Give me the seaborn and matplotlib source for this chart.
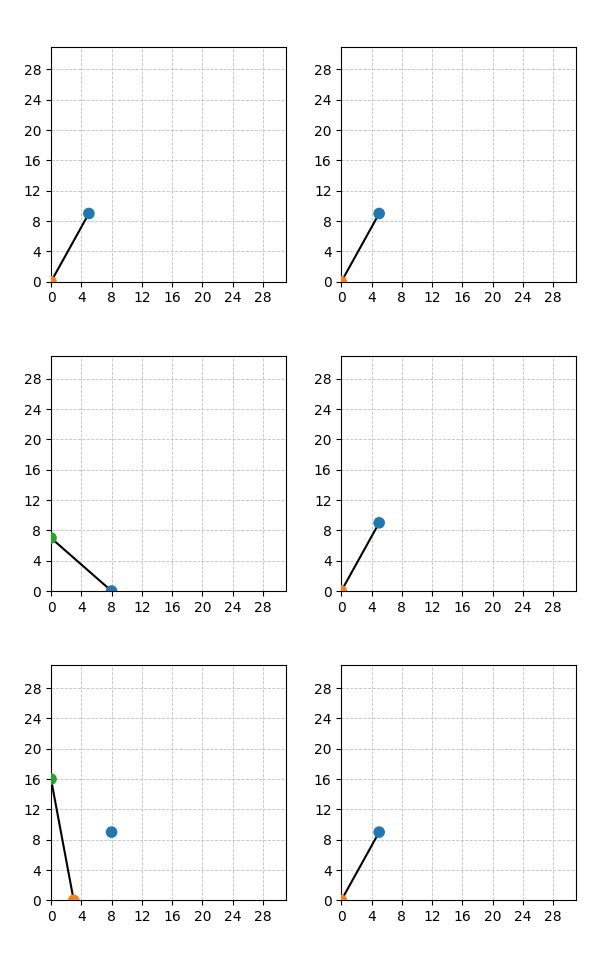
import matplotlib
matplotlib.use("Agg")
import matplotlib.pyplot as plt
import seaborn as sns
import pandas as pd

# Per-panel data (row-major order, 3 rows x 2 cols)
blue_x = [5, 5, 8, 5, 8, 5]
blue_y = [9, 9, 0, 9, 9, 9]
orange_x = [0, 0, None, 0, 3, 0]
orange_y = [0, 0, None, 0, 0, 0]
green_x = [None, None, 0, None, 0, None]
green_y = [None, None, 7, None, 16, None]
line_x = [[0, 5], [0, 5], [0, 8], [0, 5], [0, 3], [0, 5]]
line_y = [[0, 9], [0, 9], [7, 0], [0, 9], [16, 0], [0, 9]]
ticks = list(range(0, 29, 4))

fig, axes = plt.subplots(3, 2, figsize=(5.98, 9.57), dpi=100)
fig.subplots_adjust(left=0.0853, right=0.9632, top=0.9512, bottom=0.0592,
                    wspace=0.237, hspace=0.316)

for i, ax in enumerate(axes.flat):
    ld = pd.DataFrame({"x": line_x[i], "y": line_y[i]})
    sns.lineplot(data=ld, x="x", y="y", sort=False, color="black",
                 linewidth=1.5, ax=ax, zorder=2)
    if orange_x[i] is not None:
        sns.scatterplot(x=[orange_x[i]], y=[orange_y[i]], color="#ff7f0e",
                        s=70, edgecolor="none", ax=ax, zorder=3)
    if green_x[i] is not None:
        sns.scatterplot(x=[green_x[i]], y=[green_y[i]], color="#2ca02c",
                        s=70, edgecolor="none", ax=ax, zorder=3)
    sns.scatterplot(x=[blue_x[i]], y=[blue_y[i]], color="#1f77b4",
                    s=70, edgecolor="none", ax=ax, zorder=3)
    ax.set_xlim(0, 31)
    ax.set_ylim(0, 31)
    ax.set_xticks(ticks)
    ax.set_yticks(ticks)
    ax.set_xlabel("")
    ax.set_ylabel("")
    ax.grid(True, linestyle="--", linewidth=0.6, color="#c0c0c0")
    ax.set_axisbelow(True)

fig.savefig("out.png", dpi=100)
